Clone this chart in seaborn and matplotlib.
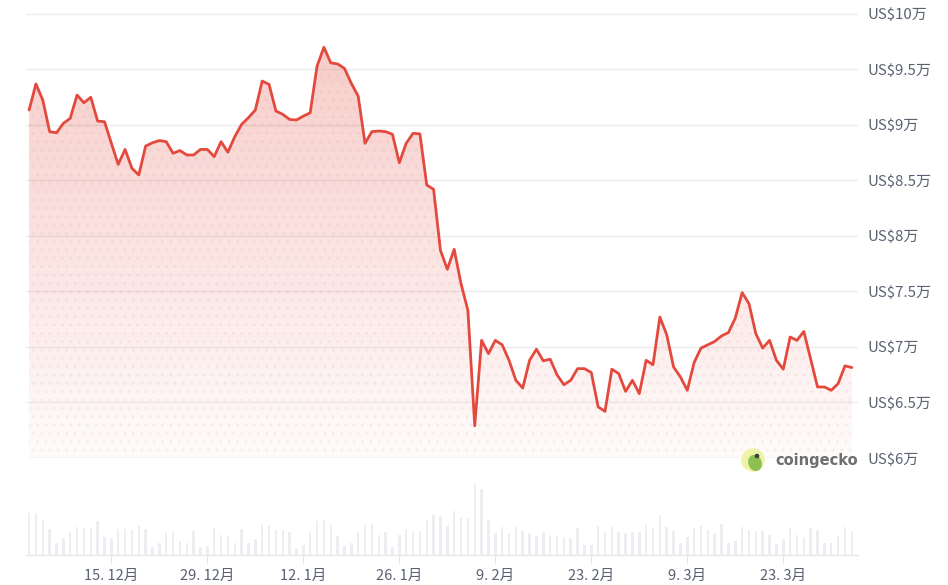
import datetime as dt
import numpy as np
import matplotlib.pyplot as plt
import matplotlib.patches as mpatches
import seaborn as sns

# daily BTC price in thousands of USD, 3 Dec 2024 .. 2 Apr 2025
start = dt.date(2024, 12, 3)
price_k = [
    91.35, 93.7, 92.25, 89.4, 89.3, 90.15, 90.6, 92.7, 92.0, 92.5,
    90.35, 90.3, 88.35, 86.45, 87.8, 86.1, 85.5, 88.1, 88.4, 88.6,
    88.5, 87.45, 87.7, 87.3, 87.3, 87.8, 87.8, 87.15, 88.5, 87.55,
    88.95, 90.06, 90.66, 91.35, 93.96, 93.66, 91.26, 90.96, 90.5, 90.45,
    90.8, 91.1, 95.3, 97.0, 95.6, 95.5, 95.1, 93.75, 92.6, 88.35,
    89.4, 89.46, 89.4, 89.16, 86.6, 88.35, 89.25, 89.2, 84.6, 84.2,
    78.7, 77.0, 78.8, 75.7, 73.3, 62.9, 70.6, 69.4, 70.6, 70.2,
    68.8, 67.0, 66.3, 68.8, 69.8, 68.75, 68.9, 67.5, 66.6, 67.0,
    68.05, 68.05, 67.7, 64.6, 64.2, 68.0, 67.6, 66.0, 67.0, 65.8,
    68.8, 68.4, 72.7, 71.1, 68.2, 67.3, 66.1, 68.6, 69.9, 70.2,
    70.5, 71.0, 71.3, 72.6, 74.9, 73.9, 71.2, 69.9, 70.6, 68.8,
    68.0, 70.9, 70.6, 71.4, 68.9, 66.4, 66.4, 66.1, 66.7, 68.3,
    68.15,
]
# relative trading volume (arbitrary units)
volume = [
    125, 125, 105, 77, 37, 50, 67, 83, 80, 80,
    102, 53, 50, 77, 77, 73, 87, 77, 25, 35,
    65, 70, 42, 35, 70, 23, 27, 80, 60, 57,
    35, 77, 37, 47, 90, 87, 73, 73, 67, 20,
    30, 70, 102, 105, 90, 57, 27, 35, 67, 90,
    93, 60, 67, 23, 60, 77, 70, 70, 105, 120,
    115, 87, 130, 110, 110, 215, 195, 105, 65, 83,
    63, 83, 70, 63, 57, 67, 57, 57, 53, 50,
    80, 30, 30, 87, 67, 83, 67, 65, 67, 67,
    90, 80, 120, 83, 70, 35, 53, 80, 87, 73,
    63, 93, 37, 43, 83, 73, 70, 70, 60, 33,
    47, 80, 60, 53, 80, 73, 37, 37, 57, 83,
    70,
]
tick_dates = [dt.date(2024, 12, 15), dt.date(2024, 12, 29), dt.date(2025, 1, 12),
              dt.date(2025, 1, 26), dt.date(2025, 2, 9), dt.date(2025, 2, 23),
              dt.date(2025, 3, 9), dt.date(2025, 3, 23)]
price_ticks = [60000, 65000, 70000, 75000, 80000, 85000, 90000, 95000, 100000]
price_labels = ['US$6万', 'US$6.5万', 'US$7万', 'US$7.5万', 'US$8万',
                'US$8.5万', 'US$9万', 'US$9.5万', 'US$10万']

sns.set_style('white')
plt.rcParams['font.family'] = ['Noto Sans CJK SC', 'DejaVu Sans']
plt.rcParams['hatch.linewidth'] = 1.0

W, H = 948, 585
day = np.arange(len(price_k))
price = np.array(price_k) * 1000
line_col = '#e4493d'
txt_col = '#5a6170'

fig = plt.figure(figsize=(W / 100, H / 100), dpi=100)
fig.patch.set_facecolor('white')

def px_axes(x0, y0, x1, y1):
    return fig.add_axes([x0 / W, 1 - y1 / H, (x1 - x0) / W, (y1 - y0) / H])

x_lo, x_hi = -0.45, 120.9

# price panel
ax = px_axes(26, 10, 858, 458)
ax.set_xlim(x_lo, x_hi)
ax.set_ylim(60000, 100360)

# gradient fill under the line, clipped to the area
poly = ax.fill_between(day, price, 60000, facecolor='none', edgecolor='none')
grad = np.zeros((256, 1, 4))
grad[:, 0, :3] = np.array([0.89, 0.29, 0.24])
grad[:, 0, 3] = np.linspace(0.30, 0.02, 256)
img = ax.imshow(grad, extent=[x_lo, x_hi, 60000, 100360], aspect='auto',
                origin='upper', zorder=1)
img.set_clip_path(poly.get_paths()[0], transform=ax.transData)
ax.fill_between(day, price, 60000, facecolor='none', hatch='..',
                edgecolor=(0.85, 0.45, 0.45, 0.07), linewidth=0, zorder=1.5)

sns.lineplot(x=day, y=price, ax=ax, color=line_col, linewidth=2.0, zorder=3)

ax.set_yticks(price_ticks)
ax.set_yticklabels(price_labels)
ax.yaxis.tick_right()
ax.tick_params(axis='y', length=0, pad=7, labelsize=10.8, labelcolor=txt_col)
ax.set_xticks([])
ax.grid(axis='y', color='#ececec', linewidth=1)
for s in ax.spines.values():
    s.set_visible(False)
ax.set_xlabel('')
ax.set_ylabel('')

# volume panel
vax = px_axes(26, 468, 858, 555)
vax.set_xlim(x_lo, x_hi)
vax.set_ylim(0, 258)
vax.bar(day, volume, width=0.36, color='#eceef2', linewidth=0)
tick_pos = [(d - start).days for d in tick_dates]
vax.set_xticks(tick_pos)
vax.set_xticklabels([f'{d.day}. {d.month}月' for d in tick_dates])
vax.tick_params(axis='x', length=6, width=0.8, color='#e4e4e4', pad=4,
                labelsize=10.5, labelcolor=txt_col, bottom=True)
vax.set_yticks([])
for s in ['top', 'left', 'right']:
    vax.spines[s].set_visible(False)
vax.spines['bottom'].set_color('#e8e8e8')
vax.spines['bottom'].set_linewidth(1)
vax.set_facecolor('none')

# coingecko watermark
lax = fig.add_axes([0, 0, 1, 1], facecolor='none')
lax.set_xlim(0, W)
lax.set_ylim(H, 0)
lax.axis('off')
lax.add_patch(mpatches.Circle((753, 460), 11, color='#eef3a8', zorder=5))
lax.add_patch(mpatches.Ellipse((755, 463), 12, 15, angle=-20, color='#8cc152', zorder=6))
lax.add_patch(mpatches.Circle((757, 456), 1.6, color='#3d3d3d', zorder=7))
lax.text(775, 460, 'coingecko', fontsize=10.5, fontweight='bold', color='#6e6e6e',
         va='center', ha='left', family=['DejaVu Sans'])

fig.savefig('out.png', dpi=100)
